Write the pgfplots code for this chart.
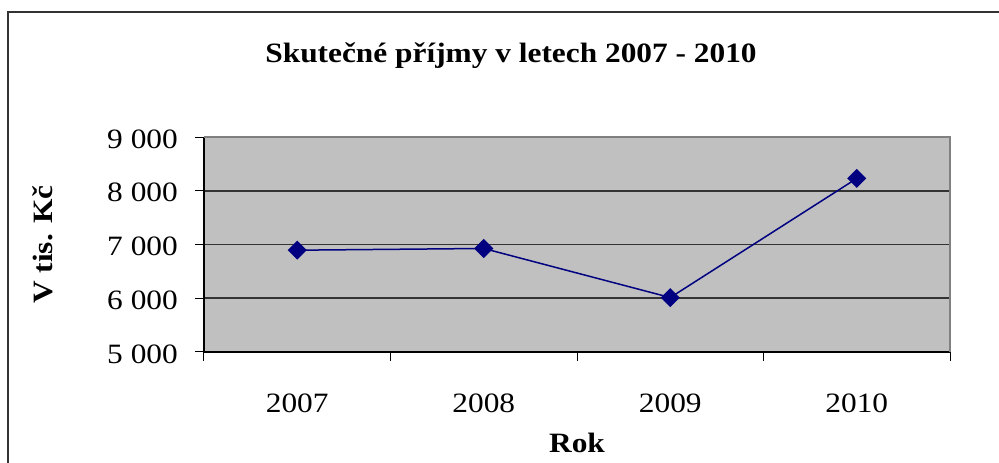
\documentclass[border=0pt]{standalone}
\usepackage{fontspec}
\setmainfont{Liberation Serif}[FakeStretch=1.12]
\usepackage{pgfplots}
\pgfplotsset{compat=1.18}
\definecolor{plotgray}{HTML}{C0C0C0}
\definecolor{navyline}{HTML}{000080}
\newcommand{\chartfont}{\fontsize{28}{33}\selectfont}
\begin{document}
\begin{tikzpicture}[font=\chartfont]
\useasboundingbox (0,0) rectangle (999pt,463pt);
\draw[line width=2pt, black!80] (8pt,0pt) -- (8pt,450.5pt) -- (999pt,450.5pt);
\node[font=\chartfont\bfseries, anchor=base] at (511pt,400pt) {Skutečné příjmy v letech 2007 - 2010};
\begin{axis}[
  at={(204pt,111pt)}, anchor=south west,
  width=746pt, height=215pt, scale only axis,
  xmin=0.5, xmax=4.5, ymin=5000, ymax=9000,
  axis x line=bottom, axis y line=left,
  axis line style={-, black, line width=1.5pt},
  axis background/.style={fill=plotgray},
  xtick={0.5,1.5,2.5,3.5,4.5}, xticklabels={},
  extra x ticks={1,2,3,4},
  extra x tick labels={2007,2008,2009,2010},
  extra x tick style={major tick length=0pt, xticklabel style={anchor=base, yshift=-60pt, inner sep=0pt}},
  ytick={5000,6000,7000,8000,9000},
  yticklabels={5 000,6 000,7 000,8 000,9 000},
  yticklabel style={anchor=east, xshift=-17pt, yshift=-2pt, inner sep=0pt},
  tick align=outside, major tick length=9pt,
  tick style={black, line width=1pt},
  ymajorgrids, grid style={black!80, line width=1.5pt},
  xlabel={\bfseries Rok},
  ylabel={\bfseries V tis. Kč},
  every axis x label/.style={at={(axis description cs:0.5,0)}, anchor=base, yshift=-100pt},
  every axis y label/.style={at={(axis description cs:0,0.5)}, xshift=-161pt, anchor=center, rotate=90},
  clip=false,
]
\addplot[navyline, line width=1.5pt, mark=square*, mark size=6pt, mark options={rotate=45, fill=navyline, draw=navyline}]
  coordinates {(1,6894) (2,6926) (3,6013) (4,8229)};
\draw[black!50, line width=1.5pt] (rel axis cs:0,1) -- (rel axis cs:1,1) -- (rel axis cs:1,0);
\end{axis}
\end{tikzpicture}
\end{document}
